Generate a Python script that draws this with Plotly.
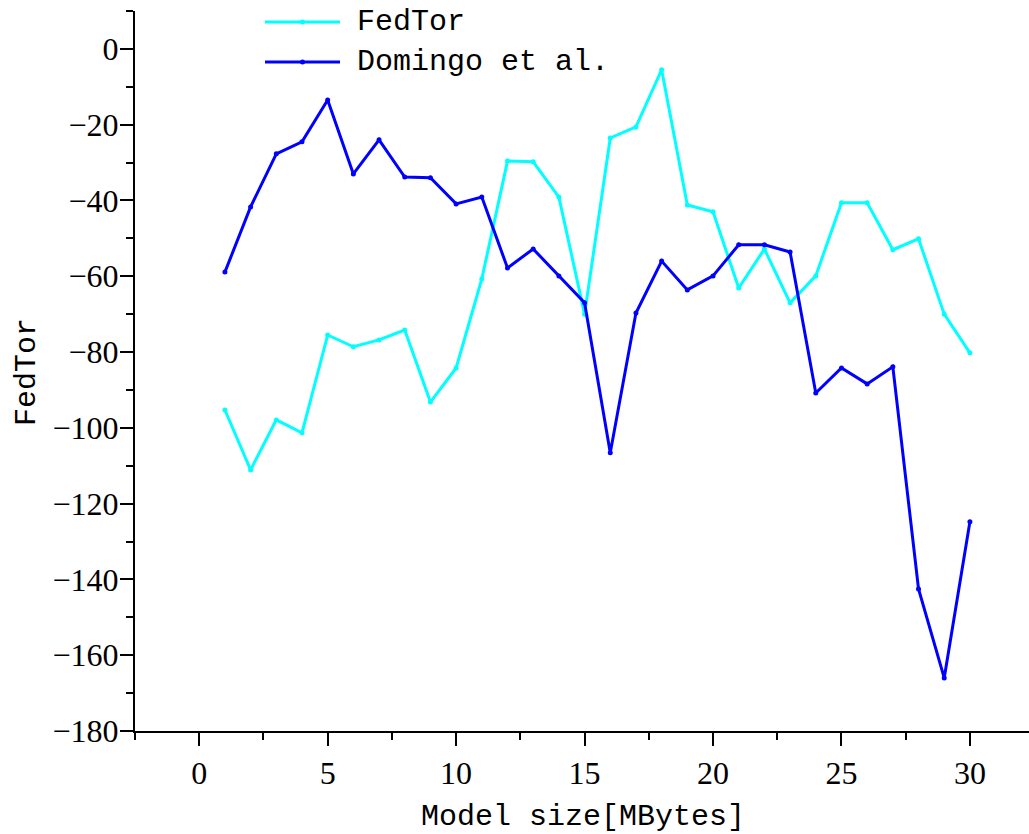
import plotly.graph_objects as go

x_vals = list(range(1, 31))
fedtor = [-95.3, -111.1, -97.9, -101.3, -75.5, -78.6, -76.8, -74.2, -93.2, -84.2,
          -60.7, -29.6, -29.8, -39.1, -70.0, -23.5, -20.6, -5.5, -41.2, -43.0,
          -63.1, -52.8, -67.0, -59.9, -40.6, -40.6, -53.0, -50.1, -70.0, -80.2]
domingo = [-58.9, -41.7, -27.7, -24.5, -13.5, -33.0, -24.0, -33.8, -34.0, -40.9,
           -39.1, -57.8, -52.8, -59.9, -67.0, -106.6, -69.7, -56.0, -63.6, -59.9,
           -51.7, -51.7, -53.6, -90.8, -84.2, -88.4, -83.9, -142.5, -166.0, -124.8]
series_names = ["FedTor", "Domingo et al."]
series_colors = ["#00FFFF", "#0000FF"]

W, H = 1029, 834
ML, MR, MT, MB = 135, 0, 11, 103

fig = go.Figure()
for name, ys, col in zip(series_names, [fedtor, domingo], series_colors):
    fig.add_trace(go.Scatter(x=x_vals, y=ys, mode="lines+markers", name=name,
                             line=dict(color=col, width=3),
                             marker=dict(color=col, size=5), showlegend=False))

tick_font = dict(family="Liberation Serif", size=32, color="black")
title_font = dict(family="Liberation Mono", size=30, color="black")

fig.update_xaxes(range=[-2.5, 32.3], tick0=0, dtick=5, ticks="outside", ticklen=13,
                 tickwidth=2, tickcolor="black", showline=True, linewidth=2,
                 linecolor="black", showgrid=False, zeroline=False, automargin=False,
                 minor=dict(dtick=2.5, tick0=0, ticks="outside", ticklen=7,
                            tickwidth=2, tickcolor="black", showgrid=False),
                 tickfont=tick_font)
fig.update_yaxes(range=[-180, 10], tick0=0, dtick=20, ticks="outside", ticklen=13,
                 tickwidth=2, tickcolor="black", showline=True, linewidth=2,
                 linecolor="black", showgrid=False, zeroline=False, automargin=False,
                 minor=dict(dtick=10, tick0=0, ticks="outside", ticklen=7,
                            tickwidth=2, tickcolor="black", showgrid=False),
                 tickfont=tick_font, ticklabelstandoff=-5)

pw = W - ML - MR
ph = H - MT - MB
def px(xp):
    return (xp - ML) / pw
def py(yp):
    return 1 - (yp - MT) / ph

# axis titles
fig.add_annotation(xref="paper", yref="paper", x=px(583), y=py(817),
                   text="Model size[MBytes]", showarrow=False,
                   xanchor="center", yanchor="middle", font=title_font)
fig.add_annotation(xref="paper", yref="paper", x=px(27), y=py(372),
                   text="FedTor", showarrow=False, textangle=-90,
                   xanchor="center", yanchor="middle", font=title_font)

# custom legend (paper coordinates)
rows_y = [22, 62]
for name, col, yp in zip(series_names, series_colors, rows_y):
    fig.add_shape(type="line", xref="paper", yref="paper",
                  x0=px(265), x1=px(340), y0=py(yp), y1=py(yp),
                  line=dict(color=col, width=3))
    fig.add_shape(type="circle", xref="paper", yref="paper",
                  x0=px(300), x1=px(305), y0=py(yp + 2.5), y1=py(yp - 2.5),
                  fillcolor=col, line=dict(color=col, width=0))
    fig.add_annotation(xref="paper", yref="paper", x=px(355), y=py(yp),
                       text=name, showarrow=False, xanchor="left", yanchor="middle",
                       font=title_font)

fig.update_layout(width=W, height=H, margin=dict(l=ML, r=MR, t=MT, b=MB, pad=0),
                  plot_bgcolor="white", paper_bgcolor="white")
fig.write_html("out.html", config={"displayModeBar": False},
               post_script="document.body.style.margin='0';document.body.style.overflow='hidden';")
